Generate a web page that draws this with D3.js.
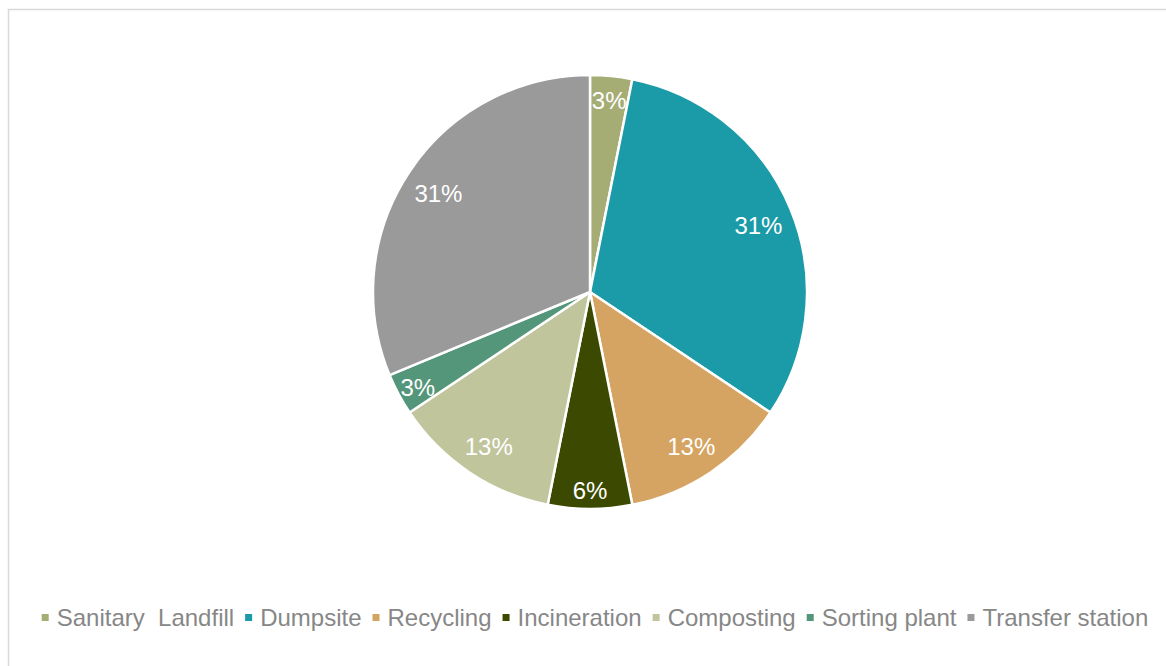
<!DOCTYPE html>
<meta charset="utf-8">
<style>
body { margin: 0; background: #fff; }
text { font-family: "Liberation Sans", Arial, sans-serif; }
.labels text { fill: #fff; font-size: 24px; }
.legend text { fill: #878787; font-size: 24px; }
</style>
<svg width="1166" height="666"></svg>
<script src="https://d3js.org/d3.v7.min.js"></script>
<script>
var categories = ["Sanitary  Landfill", "Dumpsite", "Recycling", "Incineration", "Composting", "Sorting plant", "Transfer station"];
var counts = [1, 10, 4, 2, 4, 1, 10];
var colors = ["#a5ac74", "#1b9aa8", "#d5a462", "#3b4a00", "#c0c59c", "#539679", "#9a9a9a"];

var svg = d3.select("svg"),
    width = +svg.attr("width"),
    height = +svg.attr("height"),
    cx = 590,
    cy = 292,
    radius = 217;

// chart frame (only top/left edges fall inside the picture)
svg.append("rect")
    .attr("x", 8.5).attr("y", 9.5)
    .attr("width", 1170).attr("height", 670)
    .attr("fill", "none")
    .attr("stroke", "#d9d9d9")
    .attr("stroke-width", 1.5);

var data = categories.map(function(c, i) { return {name: c, value: counts[i], color: colors[i]}; });
var total = d3.sum(counts);

var pie = d3.pie().sort(null).value(function(d) { return d.value; });
var arc = d3.arc().innerRadius(0).outerRadius(radius);

var g = svg.append("g").attr("transform", "translate(" + cx + "," + cy + ")");

g.selectAll("path")
  .data(pie(data))
  .enter().append("path")
    .attr("d", arc)
    .attr("fill", function(d) { return d.data.color; })
    .attr("stroke", "#fff")
    .attr("stroke-width", 2.5)
    .attr("stroke-linejoin", "round");

var fmt = d3.format(".0%");

g.append("g").attr("class", "labels")
  .selectAll("text")
  .data(pie(data))
  .enter().append("text")
    .attr("transform", function(d) {
      var share = d.data.value / total,
          r = radius * (share < 0.1 ? 0.9 : 0.84),
          a = (d.startAngle + d.endAngle) / 2;
      return "translate(" + (Math.sin(a) * r) + "," + (-Math.cos(a) * r) + ")";
    })
    .attr("text-anchor", "middle")
    .attr("dy", "0.48em")
    .text(function(d) { return fmt(Math.round(d.data.value / total * 100) / 100); });

// legend, centred under the pie
var legend = svg.append("g").attr("class", "legend");
var items = legend.selectAll("g")
  .data(data)
  .enter().append("g");

items.append("rect")
    .attr("width", 7).attr("height", 7)
    .attr("y", -12)
    .attr("fill", function(d) { return d.color; });

items.append("text")
    .attr("x", 15)
    .attr("y", 0)
    .attr("xml:space", "preserve")
    .text(function(d) { return d.name; });

var gap = 11, x = 0, pos = [];
items.each(function() {
  var w = 15 + d3.select(this).select("text").node().getComputedTextLength();
  pos.push(x);
  x += w + gap;
});
var totalW = x - gap,
    x0 = (width - totalW) / 2 + 12;
items.attr("transform", function(d, i) { return "translate(" + (x0 + pos[i]) + ",626)"; });
</script>
